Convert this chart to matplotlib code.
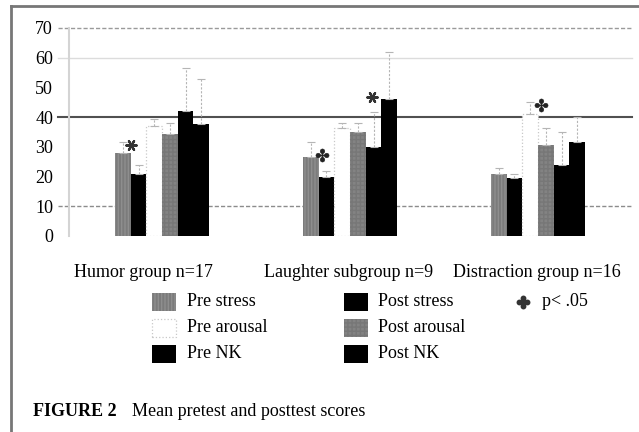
import matplotlib.pyplot as plt
from matplotlib.patches import Rectangle
from matplotlib.lines import Line2D
import numpy as np

plt.rcParams['font.family'] = ['Liberation Serif', 'DejaVu Serif']

W, H = 639, 432

# groups and series (means, upper error)
groups = ["Humor group n=17", "Laughter subgroup n=9", "Distraction group n=16"]
series = ["Pre stress", "Post stress", "Pre arousal", "Post arousal", "Pre NK", "Post NK"]

pre_stress = [28, 26.5, 20.7]
post_stress = [21, 20, 19.5]
pre_arousal = [37, 36.5, 41]
post_arousal = [34.3, 35, 30.7]
pre_nk = [42, 30, 23.9]
post_nk = [37.7, 46, 31.6]

pre_stress_err = [3.7, 5.2, 2.1]
post_stress_err = [3, 2, 1.5]
pre_arousal_err = [2.4, 1.5, 4]
post_arousal_err = [3.7, 3, 5.8]
pre_nk_err = [14.5, 11.8, 11]
post_nk_err = [15.3, 16, 8.4]

# significance marks (x in group units, y in score units)
star_x = [-0.165, 0.851, 1.117, 2.016]
star_y = [30.6, 27.3, 46.8, 44]
star_kind = ["ast", "clover", "ast", "clover"]

yticks = [0, 10, 20, 30, 40, 50, 60, 70]

values = [pre_stress, post_stress, pre_arousal, post_arousal, pre_nk, post_nk]
errors = [pre_stress_err, post_stress_err, pre_arousal_err, post_arousal_err, pre_nk_err, post_nk_err]

styles = [
    dict(color='#7b7b7b', hatch='|||||', edgecolor='#8e8e8e', linewidth=0),
    dict(color='#000000', edgecolor='#000000', linewidth=0),
    dict(color='#ffffff', edgecolor='#c8c8c8', linewidth=0.9, linestyle=':'),
    dict(color='#838383', hatch='++++', edgecolor='#777777', linewidth=0),
    dict(color='#000000', edgecolor='#000000', linewidth=0),
    dict(color='#000000', edgecolor='#000000', linewidth=0),
]


def fx(x):
    return x / W


def fy(y):
    return 1 - y / H


fig = plt.figure(figsize=(W / 100, H / 100), dpi=100)
ax = fig.add_axes([fx(69), fy(236), fx(632) - fx(69), fy(28) - fy(236)])

x = np.arange(len(groups))
bw = 0.0835
for k in range(len(series)):
    xs = x + (k - 2.5) * bw
    st = dict(styles[k])
    fc = st.pop('color')
    ax.bar(xs, values[k], width=bw, facecolor=fc, zorder=3, **st)
    eb = ax.errorbar(xs, values[k], yerr=[np.zeros(3), errors[k]], fmt='none',
                     ecolor='#b5b5b5', elinewidth=0.8, capsize=3, capthick=0.8, zorder=4)
    eb[2][0].set_linestyle((0, (2, 1.5)))

# gridlines as in the original (only some are drawn)
ax.axhline(70, xmin=-0.0195, xmax=1, color='#9a9a9a', lw=1.0, ls=(0, (3, 1.5)), clip_on=False, zorder=1)
ax.axhline(60, xmin=-0.0195, xmax=1, color='#dcdcdc', lw=1.0, clip_on=False, zorder=1)
ax.axhline(40, xmin=-0.0195, xmax=1, color='#505050', lw=1.5, clip_on=False, zorder=2)
ax.axhline(10, xmin=-0.0195, xmax=1, color='#8c8c8c', lw=1.0, ls=(0, (3, 1.5)), clip_on=False, zorder=1)

for sx, sy, kind in zip(star_x, star_y, star_kind):
    if kind == "ast":
        ax.scatter([sx], [sy], marker=(6, 2, 90), s=55, color='#333333', linewidths=1.6, zorder=5)
    else:
        ax.scatter([sx], [sy], marker='$✤$', s=90, color='#222222', linewidths=0.3, zorder=5)

ax.set_xlim(-0.495, 2.5)
ax.set_ylim(0, 70)
ax.set_yticks(yticks)
ax.set_yticklabels([str(t) for t in yticks], fontsize=13)
ax.tick_params(axis='y', length=0, pad=11.5)
ax.set_xticks([-0.1, 0.99, 1.995])
ax.set_xticklabels(groups, fontsize=13)
ax.tick_params(axis='x', length=0, pad=20)
for s in ['top', 'right', 'bottom']:
    ax.spines[s].set_visible(False)
ax.spines['left'].set_color('#d4d4d4')
ax.spines['left'].set_linewidth(1.5)

# legend drawn by hand to match the original layout
leg_cols = [(152, 187), (344, 378)]
leg_rows = [302, 328, 354]
for c, (px0, tx0) in enumerate(leg_cols):
    for r in range(3):
        k = r * 2 + c
        st = styles[k]
        rect = Rectangle((fx(px0), fy(leg_rows[r] + 9)), fx(24), 18 / H,
                         transform=fig.transFigure, facecolor=st['color'],
                         edgecolor=st['edgecolor'], hatch=st.get('hatch'),
                         linewidth=st.get('linewidth', 0), linestyle=st.get('linestyle', '-'))
        fig.add_artist(rect)
        fig.text(fx(tx0), fy(leg_rows[r]), series[k], fontsize=13, va='center', ha='left')
fig.add_artist(Line2D([fx(523)], [fy(302)], marker='$✤$', markersize=9, color='#333333',
                      transform=fig.transFigure))
fig.text(fx(542), fy(302), "p< .05", fontsize=13, va='center', ha='left')

# caption
fig.text(fx(33), fy(412), "FIGURE 2", fontsize=13, fontweight='bold', va='center', ha='left')
fig.text(fx(132), fy(412), "Mean pretest and posttest scores", fontsize=13, va='center', ha='left')

# frame
fig.add_artist(Line2D([fx(11), fx(11)], [0, fy(6)], color='#777777', lw=2, transform=fig.transFigure))
fig.add_artist(Line2D([fx(11), 1], [fy(6), fy(6)], color='#777777', lw=2, transform=fig.transFigure))

fig.savefig('out.png', dpi=100)
